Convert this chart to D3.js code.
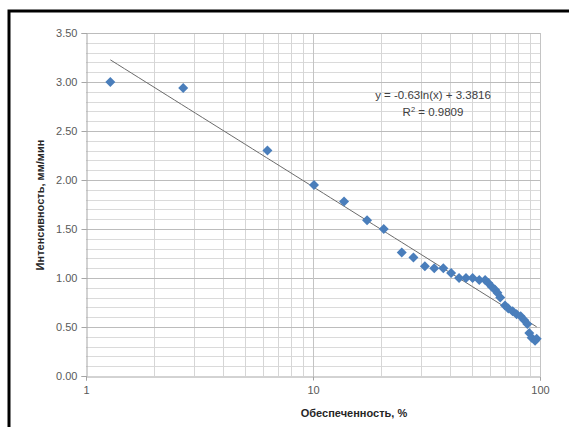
<!DOCTYPE html>
<html>
<head>
<meta charset="utf-8">
<script src="https://cdn.jsdelivr.net/npm/d3@7"></script>
<style>
  html, body { margin: 0; padding: 0; background: #fff; }
  svg { display: block; font-family: "Liberation Sans", Arial, sans-serif; }
</style>
</head>
<body>
<svg id="chart" width="569" height="427"></svg>
<script>
// Rainfall intensity vs. exceedance probability (log x axis)
const probability = [1.28, 2.68, 6.3, 10.1, 13.7, 17.3, 20.5, 24.6, 27.7, 31.1, 34.2, 37.5,
  40.6, 44.0, 47.2, 50.5, 54.0, 57.3, 59.2, 61.3, 63.4, 64.9, 66.8, 70.1, 72.5, 75.8,
  78.9, 82.2, 85.3, 87.9, 89.7, 91.9, 95.1, 96.7];
const intensity = [3.00, 2.94, 2.30, 1.95, 1.78, 1.59, 1.50, 1.26, 1.21, 1.12, 1.10, 1.10,
  1.05, 1.00, 1.00, 1.00, 0.98, 0.98, 0.95, 0.91, 0.88, 0.85, 0.80, 0.72, 0.69, 0.66,
  0.63, 0.61, 0.57, 0.53, 0.44, 0.39, 0.36, 0.38];
const xTicks = [1, 10, 100];
const yTicks = [0, 0.5, 1.0, 1.5, 2.0, 2.5, 3.0, 3.5];
const trendA = -0.63, trendB = 3.3816, trendR2 = 0.9809;

const svg = d3.select("#chart");
const plot = { left: 86, right: 540, top: 33, bottom: 376 };

const x = d3.scaleLog().domain([1, 100]).range([plot.left, plot.right]);
const y = d3.scaleLinear().domain([0, 3.5]).range([plot.bottom, plot.top]);

// outer frame
svg.append("rect").attr("x", 9).attr("y", 11).attr("width", 600).attr("height", 460)
  .attr("fill", "#fff").attr("stroke", "#000").attr("stroke-width", 3);

const g = svg.append("g");

// minor horizontal grid
const yMinor = d3.range(0, 3.51, 0.1).filter(v => Math.abs(v * 2 - Math.round(v * 2)) > 1e-6);
g.selectAll(".hminor").data(yMinor).join("line")
  .attr("x1", plot.left).attr("x2", plot.right)
  .attr("y1", d => Math.round(y(d)) + 0.5).attr("y2", d => Math.round(y(d)) + 0.5)
  .attr("stroke", "#dadada").attr("stroke-width", 1);

// vertical log grid
const xGrid = [];
for (let dec = 1; dec < 100; dec *= 10) for (let k = 2; k <= 9; k++) xGrid.push(dec * k);
g.selectAll(".vminor").data(xGrid).join("line")
  .attr("y1", plot.top).attr("y2", plot.bottom)
  .attr("x1", d => Math.round(x(d)) + 0.5).attr("x2", d => Math.round(x(d)) + 0.5)
  .attr("stroke", "#d6d6d6").attr("stroke-width", 1);

// major grid
g.selectAll(".hmajor").data(yTicks.slice(1)).join("line")
  .attr("x1", plot.left).attr("x2", plot.right)
  .attr("y1", d => Math.round(y(d)) + 0.5).attr("y2", d => Math.round(y(d)) + 0.5)
  .attr("stroke", "#bcbcbc").attr("stroke-width", 1);
g.selectAll(".vmajor").data(xTicks.slice(1)).join("line")
  .attr("y1", plot.top).attr("y2", plot.bottom)
  .attr("x1", d => Math.round(x(d)) + 0.5).attr("x2", d => Math.round(x(d)) + 0.5)
  .attr("stroke", "#c4c4c4").attr("stroke-width", 1);

// axes
const yAxis = d3.axisLeft(y).tickValues(yTicks).tickFormat(d3.format(".2f")).tickSize(5).tickPadding(4);
const xAxis = d3.axisBottom(x).tickValues(xTicks).tickFormat(d3.format("d")).tickSize(4).tickPadding(6);

const ya = svg.append("g").attr("transform", `translate(${plot.left + 0.5},0)`).call(yAxis);
const xa = svg.append("g").attr("transform", `translate(0,${plot.bottom + 0.5})`).call(xAxis);
[ya, xa].forEach(a => {
  a.select(".domain").attr("stroke", "#a6a6a6");
  a.selectAll(".tick line").attr("stroke", "#a6a6a6");
  a.selectAll("text").attr("fill", "#595959").attr("font-size", 11)
    .attr("font-family", "'Liberation Sans', Arial, sans-serif");
});

// logarithmic trend line
const trendX = [d3.min(probability), d3.max(probability)];
const trendPts = d3.range(0, 61).map(i => {
  const v = trendX[0] * Math.pow(trendX[1] / trendX[0], i / 60);
  return [x(v), y(trendA * Math.log(v) + trendB)];
});
svg.append("path").attr("d", d3.line()(trendPts))
  .attr("fill", "none").attr("stroke", "#6b6b6b").attr("stroke-width", 1);

// data markers
const diamond = d3.symbol().type(d3.symbolSquare).size(50);
svg.append("g").selectAll("path").data(probability.map((p, i) => [p, intensity[i]])).join("path")
  .attr("d", diamond)
  .attr("transform", d => `translate(${x(d[0])},${y(d[1])}) rotate(45)`)
  .attr("fill", "#4a7ebb");

// equation
svg.append("text").attr("x", 433).attr("y", 99).attr("text-anchor", "middle")
  .attr("font-size", 11.5).attr("fill", "#404040")
  .text(`y = ${trendA}ln(x) + ${trendB}`);
const r2 = svg.append("text").attr("x", 433).attr("y", 116).attr("text-anchor", "middle")
  .attr("font-size", 11.5).attr("fill", "#404040");
r2.append("tspan").text("R");
r2.append("tspan").attr("font-size", 7.5).attr("dy", -4).text("2");
r2.append("tspan").attr("dy", 4).text(` = ${trendR2}`);

// axis titles
svg.append("text").attr("x", 354).attr("y", 417).attr("text-anchor", "middle")
  .attr("font-size", 11).attr("font-weight", "bold").attr("fill", "#262626")
  .text("Обеспеченность, %");
svg.append("text").attr("transform", "translate(44,205) rotate(-90)").attr("text-anchor", "middle")
  .attr("font-size", 11).attr("font-weight", "bold").attr("fill", "#262626")
  .text("Интенсивность, мм/мин");
</script>
</body>
</html>
